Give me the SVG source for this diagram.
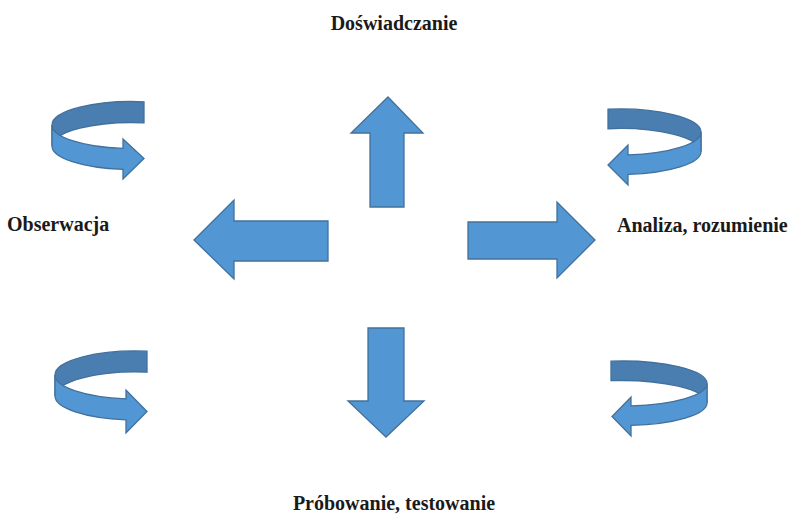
<svg xmlns="http://www.w3.org/2000/svg" width="791" height="515" viewBox="0 0 791 515">
<style>
.a{fill:#5296D3;stroke:#41719C;stroke-width:1.3;stroke-linejoin:miter}
.b{fill:#4A7EB1;stroke:#41719C;stroke-width:1.3}
.t{font-family:"Liberation Serif","Times New Roman",serif;font-weight:bold;font-size:20px;fill:#1a1a1a}
</style>
<rect width="791" height="515" fill="#ffffff"/>
<g id="connectors">
<polygon id="arrow-up" class="a" points="388,97 423,133 404,133 404,207 370,207 370,133 351,133"/>
<polygon id="arrow-down" class="a" points="368,328 404,328 404,401 424,401 386,437 348,401 368,401"/>
<polygon id="arrow-left" class="a" points="194,240 234,200 234,221 328,221 328,261 234,261 234,279"/>
<polygon id="arrow-right" class="a" points="595,240 557,202 557,222 468,222 468,259 557,259 557,278"/>
</g>
<g id="cycle-top-left">
<path class="b" d="M144,101.8 A80,23.5 0 0 0 52,125 L52,146 A80,23.5 0 0 1 144,122.8 Z"/>
<path class="a" d="M52,125 A80,23.5 0 0 0 123,148.4 L123,139 L144,158.5 L123,179 L123,169.4 A80,23.5 0 0 1 52,146 Z"/>
</g>
<g id="cycle-top-right">
<path class="b" d="M608,109.25 A81,23 0 0 1 701,132 L701,151.5 A81,23 0 0 0 608,128.75 Z"/>
<path class="a" d="M701,132 A81,23 0 0 1 628,154.9 L628,145 L608,165 L628,185 L628,174.4 A81,23 0 0 0 701,151.5 Z"/>
</g>
<g id="cycle-bottom-left">
<path class="b" d="M147,351.2 A81,24 0 0 0 55,375 L55,396 A81,24 0 0 1 147,372.2 Z"/>
<path class="a" d="M55,375 A81,24 0 0 0 126,398.8 L126,390 L147,411.5 L126,433 L126,419.8 A81,24 0 0 1 55,396 Z"/>
</g>
<g id="cycle-bottom-right">
<path class="b" d="M611,361.2 A85,22.5 0 0 1 707,383.5 L707,403 A85,22.5 0 0 0 611,380.7 Z"/>
<path class="a" d="M707,383.5 A85,22.5 0 0 1 631,405.9 L631,397 L612,416.5 L631,436 L631,425.4 A85,22.5 0 0 0 707,403 Z"/>
</g>
<g id="label-doswiadczanie"><text class="t" x="394" y="30" text-anchor="middle">Doświadczanie</text></g>
<g id="label-obserwacja"><text class="t" x="7" y="231">Obserwacja</text></g>
<g id="label-analiza"><text class="t" x="617" y="231.5">Analiza, rozumienie</text></g>
<g id="label-probowanie"><text class="t" x="394" y="510" text-anchor="middle">Próbowanie, testowanie</text></g>
</svg>
